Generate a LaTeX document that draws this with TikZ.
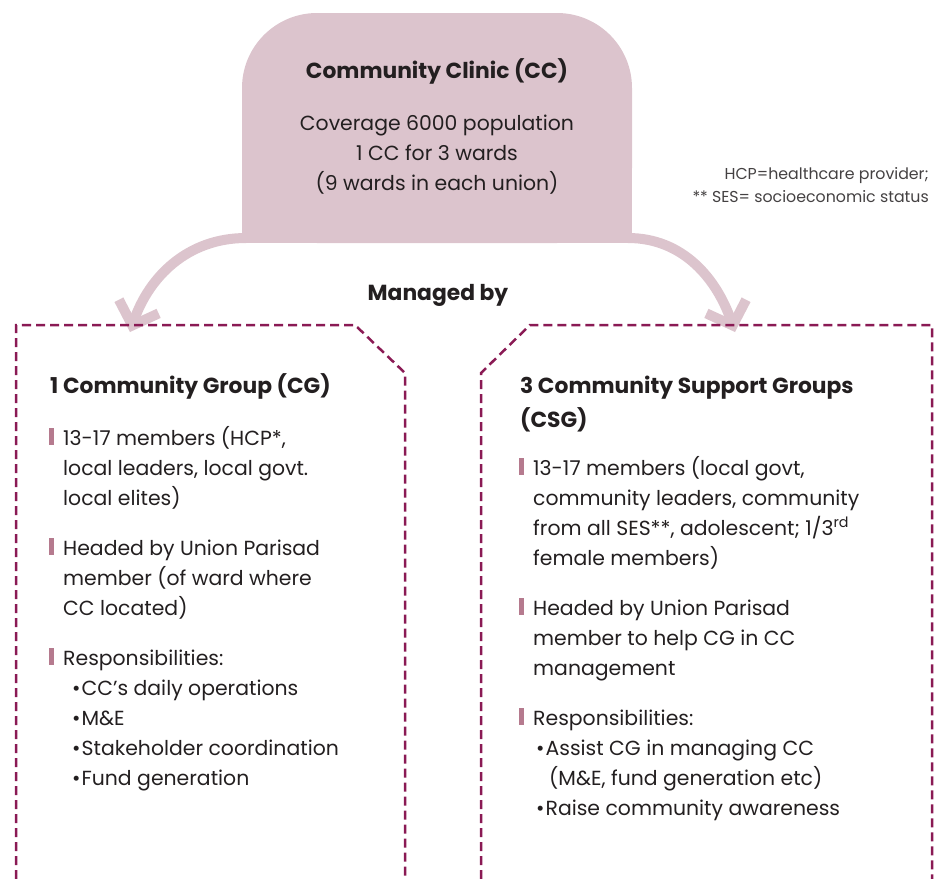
\documentclass[tikz,border=0pt]{standalone}
\usepackage{fontspec}
\setmainfont{Poppins}
\usetikzlibrary{arrows.meta}

\definecolor{ccfill}{RGB}{220,196,205}
\definecolor{grpline}{RGB}{138,26,84}
\definecolor{barcol}{RGB}{181,122,142}
\definecolor{ink}{RGB}{35,31,32}

\tikzset{
  txt/.style={anchor=base west, inner sep=0pt, text=ink, font=\fontsize{20.4}{24}\selectfont},
  ctr/.style={txt, anchor=base},
  head/.style={txt, font=\fontsize{21.8}{25}\selectfont\bfseries},
  note/.style={anchor=base east, inner sep=0pt, text=ink!85, font=\fontsize{15.8}{18}\selectfont},
  flow/.style={ccfill, line width=10pt, -{Straight Barb[length=20pt,width=42pt]}},
  grpbox/.style={grpline, line width=2.5pt, dash pattern=on 9pt off 5pt},
}

% mauve marker in front of an item
\newcommand{\itembar}[1]{\fill[barcol] ([xshift=-14pt]#1.base west) rectangle ++(5,-17);}

\begin{document}
\begin{tikzpicture}[x=1pt,y=-1pt]
  \useasboundingbox (0,0) rectangle (938,879);

  % community clinic box, round top corners only
  \fill[ccfill, rounded corners=75pt] (242,13) rectangle (632,243);
  \fill[ccfill] (242,120) rectangle (632,243);

  \node[ctr, font=\fontsize{21.8}{25}\selectfont\bfseries] (ccTitle) at (437,78) {Community Clinic (CC)};
  \node[ctr] (ccL1) at (437,130) {Coverage 6000 population};
  \node[ctr] (ccL2) at (437,160) {1 CC for 3 wards};
  \node[ctr] (ccL3) at (437,190) {(9 wards in each union)};

  % footnotes
  \node[note] (noteA) at (929,179) {HCP=healthcare provider;};
  \node[note] (noteB) at (929,202) {** SES= socioeconomic status};

  % arrows down to both groups
  \coordinate (ccL) at (246,238);
  \coordinate (ccR) at (628,238);
  \coordinate (cgTip) at (130,332);
  \coordinate (csgTip) at (735,332);
  \draw[flow] (ccL) to[out=180,in=71] (cgTip);
  \draw[flow] (ccR) to[out=0,in=109] (csgTip);

  \node[ctr, font=\fontsize{21.8}{25}\selectfont\bfseries] (managed) at (438,300) {Managed by};

  % dashed group outlines, open at the bottom
  \draw[grpbox] (16,879) -- (16,325) -- (355,325) -- (405,373) -- (405,879);
  \draw[grpbox] (481,879) -- (481,373) -- (530,325) -- (932,325) -- (932,879);

  % community group
  \node[head] (cgHead) at (50,393) {1 Community Group (CG)};
  \node[txt] (cgA1) at (63,445) {13-17 members (HCP*,};
  \node[txt] (cgA2) at (63,475) {local leaders, local govt.};
  \node[txt] (cgA3) at (63,505) {local elites)};
  \node[txt] (cgB1) at (63,555) {Headed by Union Parisad};
  \node[txt] (cgB2) at (63,585) {member (of ward where};
  \node[txt] (cgB3) at (63,615) {CC located)};
  \node[txt] (cgC1) at (63,665) {Responsibilities:};
  \node[txt] (cgC2) at (72,695) {•\kern1pt CC’s daily operations};
  \node[txt] (cgC3) at (72,725) {•\kern1pt M\&E};
  \node[txt] (cgC4) at (72,755) {•\kern1pt Stakeholder coordination};
  \node[txt] (cgC5) at (72,785) {•\kern1pt Fund generation};
  \itembar{cgA1}
  \itembar{cgB1}
  \itembar{cgC1}

  % community support groups
  \node[head] (csgHead1) at (520,393) {3 Community Support Groups};
  \node[head] (csgHead2) at (520,427) {(CSG)};
  \node[txt] (csgA1) at (533,475) {13-17 members (local govt,};
  \node[txt] (csgA2) at (533,505) {community leaders, community};
  \node[txt] (csgA3) at (533,535) {from all SES**, adolescent; 1/3\textsuperscript{rd}};
  \node[txt] (csgA4) at (533,565) {female members)};
  \node[txt] (csgB1) at (533,615) {Headed by Union Parisad};
  \node[txt] (csgB2) at (533,645) {member to help CG in CC};
  \node[txt] (csgB3) at (533,675) {management};
  \node[txt] (csgC1) at (533,725) {Responsibilities:};
  \node[txt] (csgC2) at (536,755) {•\kern1pt Assist CG in managing CC};
  \node[txt] (csgC3) at (549,785) {(M\&E, fund generation etc)};
  \node[txt] (csgC4) at (536,815) {•\kern1pt Raise community awareness};
  \itembar{csgA1}
  \itembar{csgB1}
  \itembar{csgC1}
\end{tikzpicture}
\end{document}
